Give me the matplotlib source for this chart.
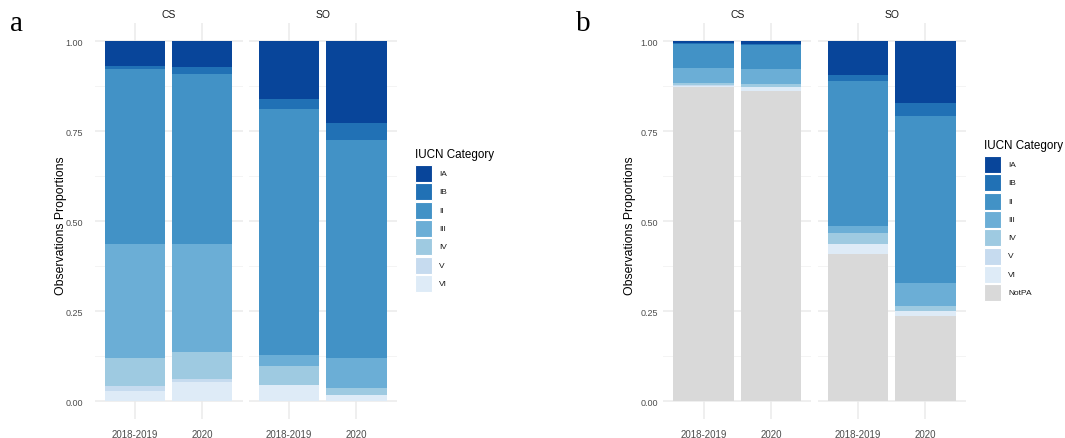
import matplotlib
matplotlib.use("Agg")
import matplotlib.pyplot as plt
from matplotlib.patches import Rectangle
import numpy as np

W, H = 1065, 439

periods = ["2018-2019", "2020"]
facets = ["CS", "SO"]
categories_a = ["IA", "IB", "II", "III", "IV", "V", "VI"]
categories_b = ["IA", "IB", "II", "III", "IV", "V", "VI", "NotPA"]

colors = {
    "IA": "#08459a", "IB": "#2171b5", "II": "#4292c6", "III": "#6baed6",
    "IV": "#9ecae1", "V": "#c6dbef", "VI": "#deebf7", "NotPA": "#d9d9d9",
}

# Panel a proportions (protected areas only), order IA..VI, per facet/period
a_CS_2018 = [0.069, 0.009, 0.486, 0.316, 0.078, 0.014, 0.028]
a_CS_2020 = [0.073, 0.019, 0.472, 0.300, 0.074, 0.009, 0.053]
a_SO_2018 = [0.161, 0.028, 0.683, 0.031, 0.053, 0.000, 0.044]
a_SO_2020 = [0.229, 0.045, 0.606, 0.085, 0.018, 0.000, 0.017]

# Panel b proportions including NotPA, order IA..VI, NotPA
b_CS_2018 = [0.006, 0.003, 0.065, 0.042, 0.006, 0.003, 0.004, 0.871]
b_CS_2020 = [0.007, 0.003, 0.069, 0.040, 0.008, 0.002, 0.009, 0.862]
b_SO_2018 = [0.095, 0.015, 0.405, 0.017, 0.032, 0.000, 0.028, 0.408]
b_SO_2020 = [0.172, 0.037, 0.462, 0.065, 0.014, 0.000, 0.014, 0.236]

data_a = {"CS": [a_CS_2018, a_CS_2020], "SO": [a_SO_2018, a_SO_2020]}
data_b = {"CS": [b_CS_2018, b_CS_2020], "SO": [b_SO_2018, b_SO_2020]}

FONT = "Liberation Sans"
plt.rcParams["font.family"] = [FONT, "DejaVu Sans"]

fig = plt.figure(figsize=(W / 100, H / 100), dpi=100)
fig.patch.set_facecolor("white")


def ax_at(x0, x1, y0, y1):
    return fig.add_axes([x0 / W, 1 - y1 / H, (x1 - x0) / W, (y1 - y0) / H])


def draw_panel(lefts, data, cats, ytick_pad):
    axes = []
    for i, fac in enumerate(facets):
        L = lefts[i]
        ax = ax_at(L, L + 148, 24, 420)
        ax.set_xlim(0.4, 2.6)
        ax.set_ylim(-0.05, 1.05)
        for s in ax.spines.values():
            s.set_visible(False)
        # grid
        for yv in [0.125, 0.375, 0.625, 0.875]:
            ax.axhline(yv, color="#f2f2f2", lw=0.6, zorder=0)
        for yv in [0, 0.25, 0.5, 0.75, 1.0]:
            ax.axhline(yv, color="#ebebeb", lw=1.1, zorder=0)
        for xv in [1, 2]:
            ax.axvline(xv, color="#ebebeb", lw=1.1, zorder=0)
        # stacked bars: first category on top, last at bottom
        for j, vals in enumerate(data[fac]):
            bottom = 0.0
            for cat, v in reversed(list(zip(cats, vals))):
                if v > 0:
                    ax.bar(j + 1, v, width=0.9, bottom=bottom,
                           color=colors[cat], edgecolor="none", zorder=2)
                bottom += v
        ax.set_xticks([1, 2])
        ax.set_xticklabels(periods, fontsize=7, color="#4d4d4d")
        ax.tick_params(axis="x", length=0, pad=7)
        if i == 0:
            ax.set_yticks([0, 0.25, 0.5, 0.75, 1.0])
            ax.set_yticklabels(["0.00", "0.25", "0.50", "0.75", "1.00"],
                               fontsize=6.5, color="#4d4d4d")
            ax.tick_params(axis="y", length=0, pad=ytick_pad)
        else:
            ax.set_yticks([])
        ax.text(0.5, 1.0 + 9 / 396, fac, transform=ax.transAxes,
                ha="center", va="center", fontsize=7.5, color="#1a1a1a")
        axes.append(ax)
    return axes


def legend(x_key, y_title, cats):
    fig.text(x_key / W, 1 - y_title / H, "IUCN Category", fontsize=8.4,
             color="#000000", ha="left", va="center")
    y = y_title + 11
    for cat in cats:
        fig.patches.append(Rectangle((x_key / W, 1 - (y + 17) / H), 17 / W, 17 / H,
                                     transform=fig.transFigure,
                                     facecolor=colors[cat], edgecolor="white",
                                     lw=0.8))
        fig.text((x_key + 24) / W, 1 - (y + 8.5) / H, cat, fontsize=6,
                 color="#1a1a1a", ha="left", va="center")
        y += 18.3


axa = draw_panel([94.5, 248.6], data_a, categories_a, 8.5)
axb = draw_panel([663.3, 817.6], data_b, categories_b, 4)

fig.text(61 / W, 1 - 226 / H, "Observations Proportions", rotation=90,
         fontsize=8.8, ha="center", va="center", color="#000000")
fig.text(630 / W, 1 - 226 / H, "Observations Proportions", rotation=90,
         fontsize=8.8, ha="center", va="center", color="#000000")

legend(415, 155, categories_a)
legend(984, 146, categories_b)

fig.text(10 / W, 1 - 31 / H, "a", fontsize=21, family="Liberation Serif",
         ha="left", va="baseline")
fig.text(576 / W, 1 - 31 / H, "b", fontsize=21, family="Liberation Serif",
         ha="left", va="baseline")

fig.savefig("out.png", dpi=100, facecolor="white")
